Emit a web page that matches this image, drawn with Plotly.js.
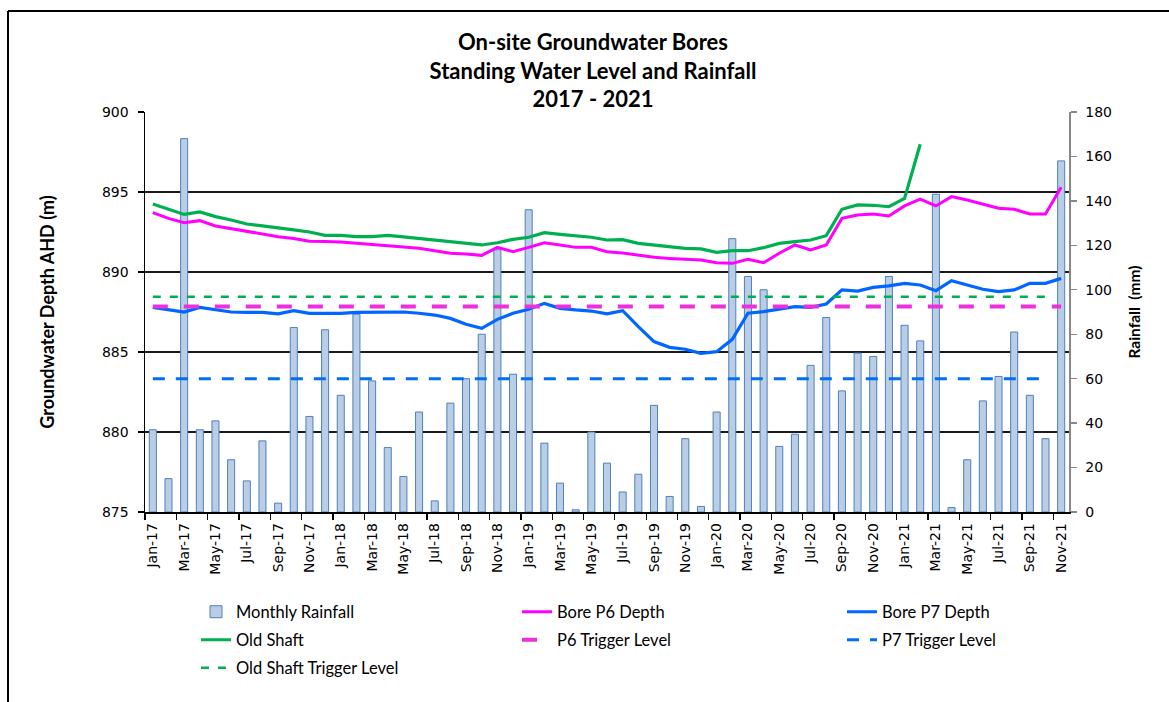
<!DOCTYPE html>
<html>
<head>
<meta charset="utf-8">
<script src="https://cdn.plot.ly/plotly-3.0.1.min.js"></script>
<style>
  html, body { margin: 0; padding: 0; background: #fff; }
  #chart { width: 1169px; height: 702px; }
</style>
</head>
<body>
<div id="chart"></div>
<script>
// ---- Data ----
const months = [
  'Jan-17','Feb-17','Mar-17','Apr-17','May-17','Jun-17','Jul-17','Aug-17','Sep-17','Oct-17','Nov-17','Dec-17',
  'Jan-18','Feb-18','Mar-18','Apr-18','May-18','Jun-18','Jul-18','Aug-18','Sep-18','Oct-18','Nov-18','Dec-18',
  'Jan-19','Feb-19','Mar-19','Apr-19','May-19','Jun-19','Jul-19','Aug-19','Sep-19','Oct-19','Nov-19','Dec-19',
  'Jan-20','Feb-20','Mar-20','Apr-20','May-20','Jun-20','Jul-20','Aug-20','Sep-20','Oct-20','Nov-20','Dec-20',
  'Jan-21','Feb-21','Mar-21','Apr-21','May-21','Jun-21','Jul-21','Aug-21','Sep-21','Oct-21','Nov-21'
];

// Monthly rainfall (mm) - right axis
const rainfall = [
  37, 15, 168, 37, 41, 23.5, 14, 32, 4, 83, 43, 82,
  52.5, 89, 59, 29, 16, 45, 5, 49, 60, 80, 118, 62,
  136, 31, 13, 1, 36, 22, 9, 17, 48, 7, 33, 2.5,
  45, 123, 106, 100, 29.5, 35, 66, 87.5, 54.5, 71.5, 70, 106,
  84, 77, 143, 2, 23.5, 50, 61, 81, 52.5, 33, 158
];

// Bore P6 depth (m AHD)
const boreP6 = [
  893.71, 893.35, 893.08, 893.21, 892.88, 892.71, 892.56, 892.40, 892.21, 892.10, 891.92, 891.90,
  891.88, 891.79, 891.71, 891.65, 891.58, 891.48, 891.33, 891.17, 891.13, 891.04, 891.54, 891.27,
  891.54, 891.83, 891.69, 891.54, 891.54, 891.27, 891.19, 891.06, 890.92, 890.85, 890.79, 890.75,
  890.58, 890.54, 890.79, 890.58, 891.17, 891.69, 891.38, 891.69, 893.35, 893.56, 893.63, 893.50,
  894.13, 894.56, 894.13, 894.71, 894.50, 894.25, 893.98, 893.92, 893.63, 893.63, 895.29
];

// Bore P7 depth (m AHD)
const boreP7 = [
  887.79, 887.67, 887.50, 887.79, 887.63, 887.50, 887.48, 887.48, 887.38, 887.58, 887.42, 887.42,
  887.42, 887.48, 887.50, 887.52, 887.50, 887.42, 887.31, 887.10, 886.73, 886.48, 887.04, 887.42,
  887.67, 888.04, 887.73, 887.63, 887.56, 887.38, 887.58, 886.58, 885.65, 885.29, 885.17, 884.92,
  885.02, 885.79, 887.42, 887.52, 887.67, 887.83, 887.79, 888.00, 888.88, 888.81, 889.04, 889.13,
  889.29, 889.19, 888.83, 889.46, 889.19, 888.92, 888.77, 888.88, 889.29, 889.29, 889.60
];

// Old Shaft (m AHD) - no readings after Feb-21
const oldShaft = [
  894.25, 893.92, 893.60, 893.75, 893.46, 893.25, 893.00, 892.88, 892.73, 892.63, 892.50, 892.29,
  892.29, 892.21, 892.21, 892.29, 892.20, 892.10, 892.00, 891.90, 891.79, 891.69, 891.83, 892.04,
  892.17, 892.46, 892.35, 892.25, 892.17, 892.00, 892.02, 891.79, 891.67, 891.58, 891.48, 891.44,
  891.23, 891.33, 891.33, 891.52, 891.79, 891.90, 892.00, 892.27, 893.92, 894.19, 894.17, 894.08,
  894.60, 897.98, null, null, null, null, null, null, null, null, null
];

// Trigger levels (m AHD) and the months they span
const oldShaftTrigger = 888.45;
const p6Trigger = 887.85;
const p7Trigger = 883.33;
const oldShaftTriggerSpan = ['Jan-17', 'Oct-21'];
const p6TriggerSpan = ['Jan-17', 'Nov-21'];
const p7TriggerSpan = ['Jan-17', 'Oct-21'];

// Tick labels: every second month
const tickLabels = months.filter((m, i) => i % 2 === 0);

// ---- Build traces ----
const idx = months.map((m, i) => i);
const spanIdx = s => s.map(m => months.indexOf(m));
const tickIdx = tickLabels.map(m => months.indexOf(m));

const legendFont = {family: 'Lato, Noto Sans, sans-serif', size: 16.5, color: '#000'};

const traces = [
  {
    type: 'bar', name: 'Monthly Rainfall', x: idx, y: rainfall, yaxis: 'y', xaxis: 'x',
    marker: {color: '#b9cde5', line: {color: '#4f81bd', width: 1}},
    legend: 'legend', hoverinfo: 'y'
  },
  {
    type: 'scatter', mode: 'lines', name: 'Bore P6 Depth', x: idx, y: boreP6, yaxis: 'y2',
    line: {color: '#ff00ff', width: 3}, legend: 'legend2'
  },
  {
    type: 'scatter', mode: 'lines', name: 'Bore P7 Depth', x: idx, y: boreP7, yaxis: 'y2',
    line: {color: '#0066ff', width: 3.2}, legend: 'legend3'
  },
  {
    type: 'scatter', mode: 'lines', name: 'Old Shaft', x: idx, y: oldShaft, yaxis: 'y2',
    line: {color: '#00b050', width: 3.2}, connectgaps: false, legend: 'legend4'
  },
  {
    type: 'scatter', mode: 'lines', name: 'P6 Trigger Level', x: spanIdx(p6TriggerSpan),
    y: p6TriggerSpan.map(() => p6Trigger), yaxis: 'y2',
    line: {color: '#ee30dc', width: 4, dash: '15px,16px'}, legend: 'legend5'
  },
  {
    type: 'scatter', mode: 'lines', name: 'P7 Trigger Level', x: spanIdx(p7TriggerSpan),
    y: p7TriggerSpan.map(() => p7Trigger), yaxis: 'y2',
    line: {color: '#0070f0', width: 3, dash: '12px,11px'}, legend: 'legend6'
  },
  {
    type: 'scatter', mode: 'lines', name: 'Old Shaft Trigger Level', x: spanIdx(oldShaftTriggerSpan),
    y: oldShaftTriggerSpan.map(() => oldShaftTrigger), yaxis: 'y2',
    line: {color: '#00b050', width: 2.6, dash: '8px,9px'}, legend: 'legend7'
  }
];

// ---- Layout ----
const W = 1169, H = 702;
const M = {l: 145, r: 100, t: 112, b: 190};
const pw = W - M.l - M.r, ph = H - M.t - M.b;
const px = v => (v - M.l) / pw;      // pixel x -> paper x
const py = v => (H - M.b - v) / ph;  // pixel y -> paper y

const tickFont = {family: 'DejaVu Sans, Verdana, sans-serif', size: 14, color: '#000'};
const leftTitleFont = {family: 'Lato, Noto Sans, sans-serif', size: 18, color: '#000', weight: 'bold'};
const rightTitleFont = {family: 'Lato, Noto Sans, sans-serif', size: 15.5, color: '#000', weight: 'bold'};

function leg(xpx, ypx) {
  return {x: px(xpx), y: py(ypx), xanchor: 'left', yanchor: 'middle', xref: 'paper', yref: 'paper',
          bgcolor: 'rgba(0,0,0,0)', borderwidth: 0, font: legendFont, orientation: 'v'};
}

const layout = {
  width: W, height: H,
  margin: M,
  paper_bgcolor: '#fff', plot_bgcolor: '#fff',
  showlegend: true,
  bargap: 0.55,
  title: {
    text: 'On-site Groundwater Bores<br>Standing Water Level and Rainfall<br>2017 - 2021',
    x: 593 / W, xref: 'container', xanchor: 'center',
    y: 1 - 50 / H, yref: 'container', yanchor: 'middle',
    font: {family: 'Lato, Noto Sans, sans-serif', size: 22, color: '#000', weight: 'bold'}
  },
  xaxis: {
    range: [-0.5, months.length - 0.5],
    tickmode: 'array', tickvals: tickIdx, ticktext: tickLabels,
    tickangle: -90, tickfont: tickFont,
    ticks: '', ticklabelstandoff: 4,
    minor: {ticks: 'outside', ticklen: 6, tickcolor: '#000', tickwidth: 1.3,
            tickmode: 'linear', tick0: -0.5, dtick: 2, showgrid: false},
    showline: true, linecolor: '#000', linewidth: 1.5,
    showgrid: false, zeroline: false, automargin: false, fixedrange: true
  },
  yaxis: {
    side: 'right', range: [0, 180], dtick: 20, tick0: 0,
    showline: true, linecolor: '#888', linewidth: 1.5,
    ticks: 'outside', ticklen: 6, tickcolor: '#888', tickwidth: 1.3,
    tickfont: tickFont, showgrid: false, zeroline: false, automargin: false,
    ticklabelstandoff: 6,
    title: {text: 'Rainfall  (mm)', font: rightTitleFont, standoff: 18}
  },
  yaxis2: {
    overlaying: 'y', side: 'left', range: [875, 900], dtick: 5, tick0: 875,
    showline: true, linecolor: '#000', linewidth: 1.5,
    ticks: 'outside', ticklen: 6, tickcolor: '#000', tickwidth: 1.3,
    tickfont: tickFont, showgrid: true, gridcolor: '#1a1a1a', gridwidth: 1.3,
    zeroline: false, automargin: false, ticklabelstandoff: 6,
    title: {text: 'Groundwater Depth AHD (m)', font: leftTitleFont, standoff: 42}
  },
  legend: leg(196, 612),
  legend2: leg(517, 612),
  legend3: leg(842, 612),
  legend4: leg(196, 640),
  legend5: leg(517, 640),
  legend6: leg(842, 640),
  legend7: leg(196, 668),
  shapes: [
    {type: 'line', xref: 'paper', yref: 'paper', x0: px(8), x1: px(W + 5), y0: py(11), y1: py(11),
     line: {color: '#000', width: 2}},
    {type: 'line', xref: 'paper', yref: 'paper', x0: px(8), x1: px(8), y0: py(11), y1: py(H + 5),
     line: {color: '#000', width: 2}}
  ]
};

Plotly.newPlot('chart', traces, layout, {displayModeBar: false, staticPlot: true});
</script>
</body>
</html>
